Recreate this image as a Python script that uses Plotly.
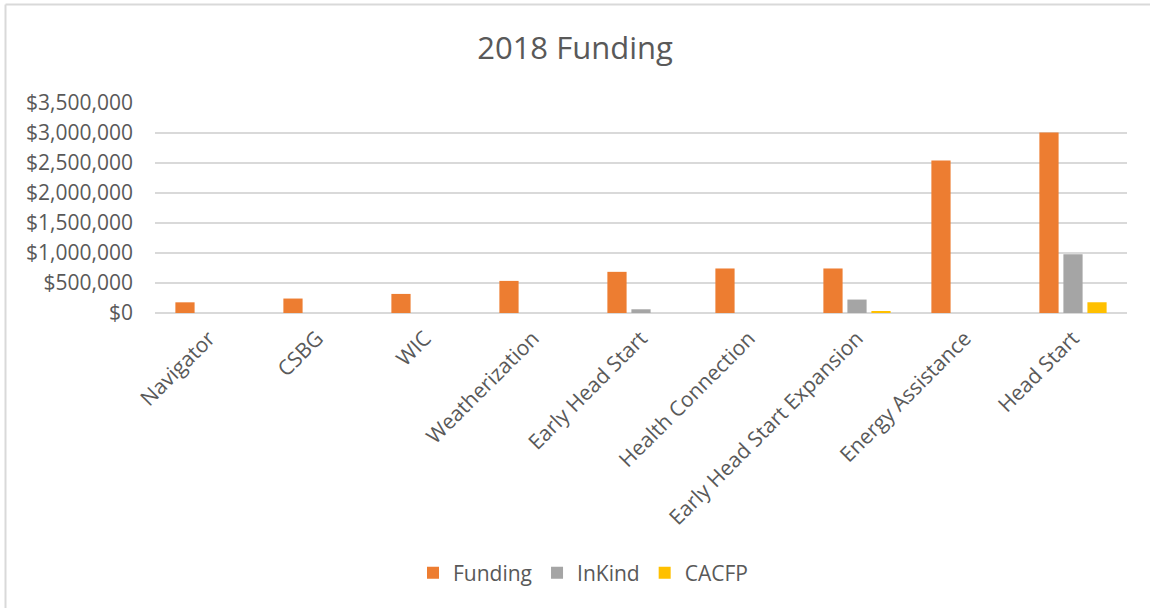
import plotly.graph_objects as go

categories = ["Navigator", "CSBG", "WIC", "Weatherization", "Early Head Start",
              "Health Connection", "Early Head Start Expansion", "Energy Assistance", "Head Start"]
funding = [178000, 241000, 318000, 535000, 686000, 742000, 742000, 2541000, 3009000]
inkind = [0, 0, 0, 0, 62000, 0, 224000, 0, 981000]
cacfp = [0, 0, 0, 0, 0, 0, 17000, 0, 179000]
tick_vals = [0, 500000, 1000000, 1500000, 2000000, 2500000, 3000000, 3500000]

FONT = "Open Sans"
TXT = "#595959"

W, H = 1150, 608
L, R, T, B = 155, 1127, 103, 313
PW, PH = R - L, B - T

def px(x):
    return (x - L) / PW

def py(y):
    return (B - y) / PH

fig = go.Figure()
fig.add_bar(name="Funding", x=categories, y=funding, marker_color="#ED7D31",
            marker_line_width=0)
fig.add_bar(name="InKind", x=categories, y=inkind, marker_color="#A5A5A5",
            marker_line_width=0)
fig.add_bar(name="CACFP", x=categories, y=cacfp, marker_color="#FFC000",
            marker_line_width=0)

fig.update_layout(
    width=W, height=H,
    margin=dict(l=L, r=W - R, t=T, b=H - B, autoexpand=False),
    paper_bgcolor="white", plot_bgcolor="white",
    barmode="group", bargap=0.333, bargroupgap=0.2,
    font=dict(family=FONT, color=TXT, size=21),
    title=dict(text="2018 Funding", x=0.5, xanchor="center", y=1 - 48 / H,
               yanchor="middle", font=dict(size=31, color=TXT, family=FONT)),
    legend=dict(orientation="h", x=px(583), xanchor="center", y=py(573),
                yanchor="middle", font=dict(size=21, color=TXT),
                itemwidth=30, traceorder="normal"),
    showlegend=True,
)
fig.update_yaxes(range=[0, 3500000], tickvals=tick_vals, tickformat="$,.0f",
                 showgrid=True, gridcolor="#D9D9D9", gridwidth=1.5,
                 zeroline=True, zerolinecolor="#D9D9D9", zerolinewidth=1.5,
                 showline=False, ticks="", ticklen=0, ticklabelstandoff=21,
                 tickfont=dict(size=21, color=TXT))
fig.update_xaxes(tickangle=-45, showgrid=False, showline=False, ticks="",
                 ticklabelstandoff=8, tickfont=dict(size=21, color=TXT))

# chart frame (left and top edges visible)
fig.add_shape(type="line", xref="paper", yref="paper",
              x0=px(5.5), x1=px(5.5), y0=py(H + 5), y1=py(4.5),
              line=dict(color="#D9D9D9", width=2))
fig.add_shape(type="line", xref="paper", yref="paper",
              x0=px(5.5), x1=px(W + 5), y0=py(4.5), y1=py(4.5),
              line=dict(color="#D9D9D9", width=2))

fig.write_html("out.html", config={"displayModeBar": False},
               post_script="document.body.style.margin='0';document.body.style.overflow='hidden';")
